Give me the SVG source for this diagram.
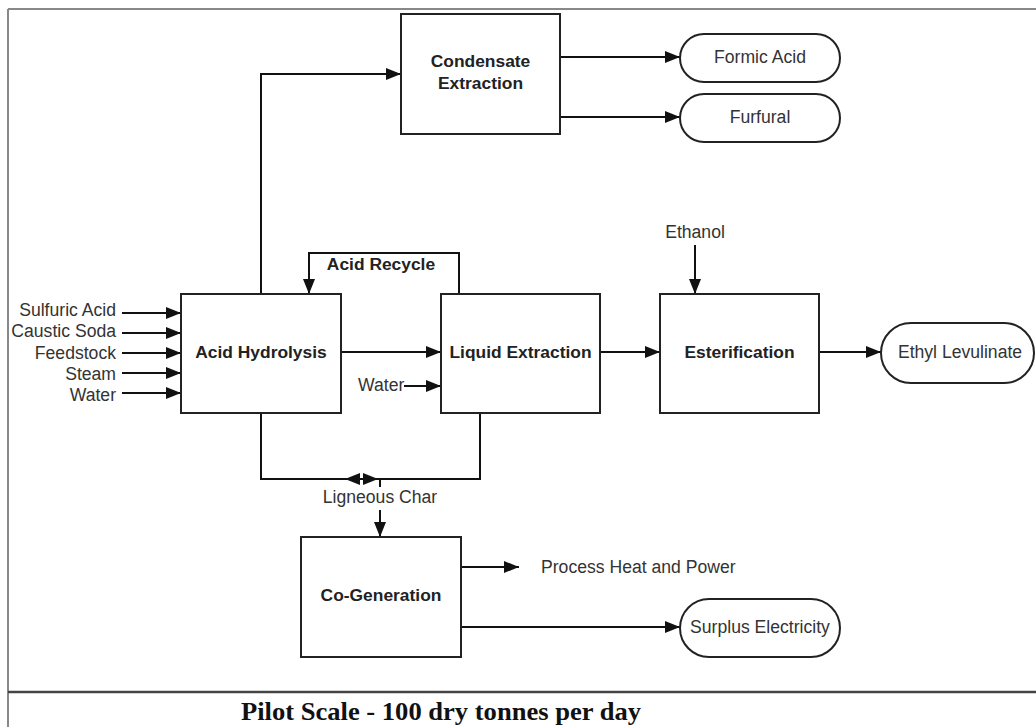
<svg xmlns="http://www.w3.org/2000/svg" width="1036" height="727" viewBox="0 0 1036 727">
<style>
.box{fill:#fff;stroke:#222;stroke-width:2}
.term{fill:#fff;stroke:#222;stroke-width:2}
.ln{fill:none;stroke:#111;stroke-width:2}
.t{font-family:"Liberation Sans",Arial,sans-serif;font-size:17.6px;fill:#333}
.b{font-family:"Liberation Sans",Arial,sans-serif;font-size:17.4px;font-weight:bold;fill:#222}
.c{text-anchor:middle}
.r{text-anchor:end}
</style>
<defs>
<marker id="ah" markerUnits="userSpaceOnUse" markerWidth="16" markerHeight="14" refX="15" refY="7" orient="auto">
<path d="M0,1 L15,7 L0,13 Z" fill="#111"/>
</marker>
</defs>
<rect width="1036" height="727" fill="#fff"/>
<g id="frame">
<line x1="8" y1="9" x2="1036" y2="9" stroke="#888" stroke-width="2"/>
<line x1="8" y1="9" x2="8" y2="727" stroke="#888" stroke-width="2"/>
<line x1="8" y1="692" x2="1036" y2="692" stroke="#444" stroke-width="2.5"/>
<text x="241" y="720" textLength="400" lengthAdjust="spacingAndGlyphs" font-family="'Liberation Serif','Times New Roman',serif" font-weight="bold" font-size="26" fill="#111">Pilot Scale - 100 dry tonnes per day</text>
</g>
<g id="connectors">
<path class="ln" d="M261,294 V74 H401" marker-end="url(#ah)"/>
<path class="ln" d="M560,57 H680" marker-end="url(#ah)"/>
<path class="ln" d="M560,117 H680" marker-end="url(#ah)"/>
<path class="ln" d="M459,294 V253 H309 V294" marker-end="url(#ah)"/>
<path class="ln" d="M341,352 H441" marker-end="url(#ah)"/>
<path class="ln" d="M404,386 H441" marker-end="url(#ah)"/>
<path class="ln" d="M600,352 H660" marker-end="url(#ah)"/>
<path class="ln" d="M695,245 V294" marker-end="url(#ah)"/>
<path class="ln" d="M819,352 H881" marker-end="url(#ah)"/>
<path class="ln" d="M122,313 H181" marker-end="url(#ah)"/>
<path class="ln" d="M122,333 H181" marker-end="url(#ah)"/>
<path class="ln" d="M122,353 H181" marker-end="url(#ah)"/>
<path class="ln" d="M122,373 H181" marker-end="url(#ah)"/>
<path class="ln" d="M122,393 H181" marker-end="url(#ah)"/>
<path class="ln" d="M261,413 V479 H378" marker-end="url(#ah)"/>
<path class="ln" d="M480,413 V479 H345" marker-end="url(#ah)"/>
<path class="ln" d="M380,479 V487"/>
<path class="ln" d="M380,510 V537" marker-end="url(#ah)"/>
<path class="ln" d="M461,567 H519" marker-end="url(#ah)"/>
<path class="ln" d="M461,627 H680" marker-end="url(#ah)"/>
<text class="b c" x="381" y="270">Acid Recycle</text>
<text class="t" x="358" y="391">Water</text>
<text class="t c" x="695" y="238">Ethanol</text>
<text class="t c" x="380" y="503">Ligneous Char</text>
<text class="t" x="541" y="573">Process Heat and Power</text>
<text class="t r" x="116" y="316">Sulfuric Acid</text>
<text class="t r" x="116" y="337">Caustic Soda</text>
<text class="t r" x="116" y="359">Feedstock</text>
<text class="t r" x="116" y="380">Steam</text>
<text class="t r" x="116" y="401">Water</text>
</g>
<g id="condensate">
<rect class="box" x="401" y="14" width="159" height="120"/>
<text class="b c" x="480.5" y="67">Condensate</text>
<text class="b c" x="480.5" y="89">Extraction</text>
</g>
<g id="hydrolysis">
<rect class="box" x="181" y="294" width="160" height="119"/>
<text class="b c" x="261" y="358">Acid Hydrolysis</text>
</g>
<g id="liquid">
<rect class="box" x="441" y="294" width="159" height="119"/>
<text class="b c" x="520.5" y="358">Liquid Extraction</text>
</g>
<g id="ester">
<rect class="box" x="660" y="294" width="159" height="119"/>
<text class="b c" x="739.5" y="358">Esterification</text>
</g>
<g id="cogen">
<rect class="box" x="301" y="537" width="160" height="120"/>
<text class="b c" x="381" y="601">Co-Generation</text>
</g>
<g id="formic">
<rect class="term" x="680" y="34" width="160" height="48" rx="24"/>
<text class="t c" x="760" y="63">Formic Acid</text>
</g>
<g id="furfural">
<rect class="term" x="680" y="94" width="160" height="48" rx="24"/>
<text class="t c" x="760" y="123">Furfural</text>
</g>
<g id="ethyl">
<rect class="term" x="881" y="323" width="153" height="60" rx="30"/>
<text class="t c" x="960" y="358">Ethyl Levulinate</text>
</g>
<g id="surplus">
<rect class="term" x="680" y="599" width="160" height="58" rx="29"/>
<text class="t c" x="760" y="633">Surplus Electricity</text>
</g>
</svg>
